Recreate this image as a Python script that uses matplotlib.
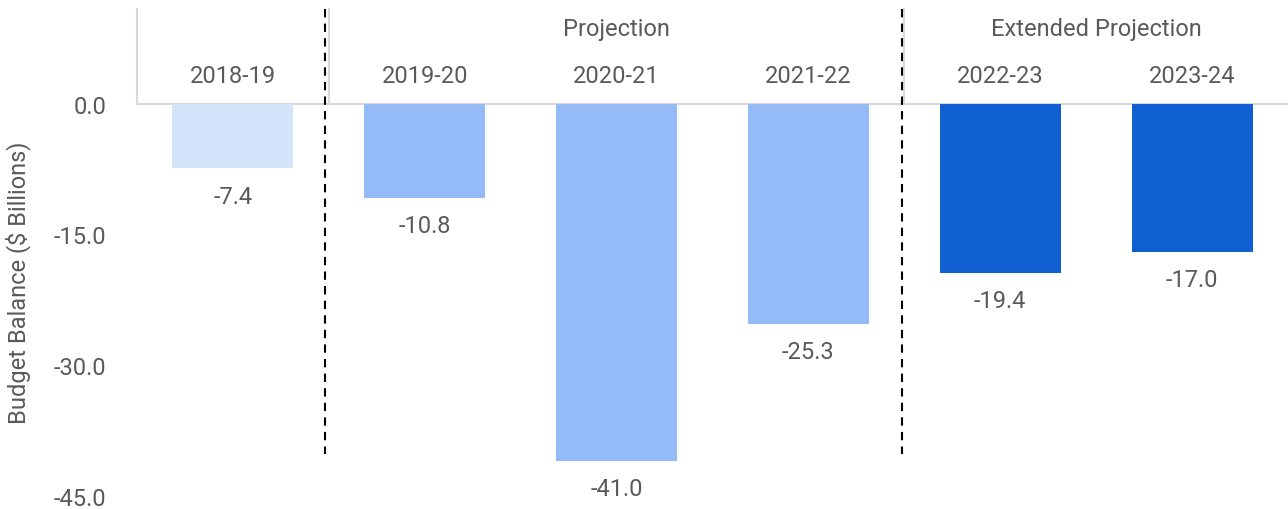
import matplotlib.pyplot as plt

# data
years = ["2018-19", "2019-20", "2020-21", "2021-22", "2022-23", "2023-24"]
balance = [-7.4, -10.8, -41.0, -25.3, -19.4, -17.0]
bar_colors = ["#d4e4fb", "#94bbf8", "#94bbf8", "#94bbf8", "#1060d4", "#1060d4"]
groups = ["Projection", "Extended Projection"]
group_centers = [2.0, 4.5]
yticks = [0, -15, -30, -45]

plt.rcParams['font.family'] = ['Roboto', 'DejaVu Sans']
text_color = "#5a5a5a"
grid_color = "#d9d9d9"
fs = 17

fig = plt.figure(figsize=(12.88, 5.10), dpi=100)
ax = fig.add_axes([137 / 1288, 1 - 501 / 510, 1 - 137 / 1288, (501 - 10) / 510])

x = range(len(years))
ax.bar(x, balance, width=0.63, color=bar_colors, zorder=2)

ax.set_xlim(-0.5, len(years) - 0.5)
ax.set_ylim(-45.5, 10.9)

for s in ax.spines.values():
    s.set_visible(False)

ax.set_xticks([])
ax.set_yticks(yticks)
ax.set_yticklabels([f"{v:.1f}" for v in yticks], fontsize=fs, color=text_color)
ax.tick_params(axis='y', length=0, pad=22)
ax.set_ylabel("Budget Balance ($ Billions)", fontsize=fs, color=text_color)
ax.yaxis.set_label_coords(-0.092, 0.445)

# header frame lines
ax.axhline(0, color=grid_color, lw=1.5, zorder=1)
for xv in [-0.5, 0.5, 3.5]:
    ax.plot([xv, xv], [0, 10.9], color=grid_color, lw=1.5, zorder=1, clip_on=False)

# dashed group separators
for xv in [0.48, 3.49]:
    ax.plot([xv, xv], [10.9, -40.2], color="black", lw=1.5, ls=(0, (4, 3)), zorder=3,
            clip_on=False)

for i, (yr, v) in enumerate(zip(years, balance)):
    ax.text(i, 3.3, yr, ha='center', va='center', fontsize=fs, color=text_color)
    ax.annotate(f"{v:.1f}", (i, v), xytext=(0, -20), textcoords='offset points',
                ha='center', va='center', fontsize=fs, color=text_color,
                annotation_clip=False)

for g, c in zip(groups, group_centers):
    ax.text(c, 8.7, g, ha='center', va='center', fontsize=fs, color=text_color)

fig.savefig("out.png", dpi=100)
